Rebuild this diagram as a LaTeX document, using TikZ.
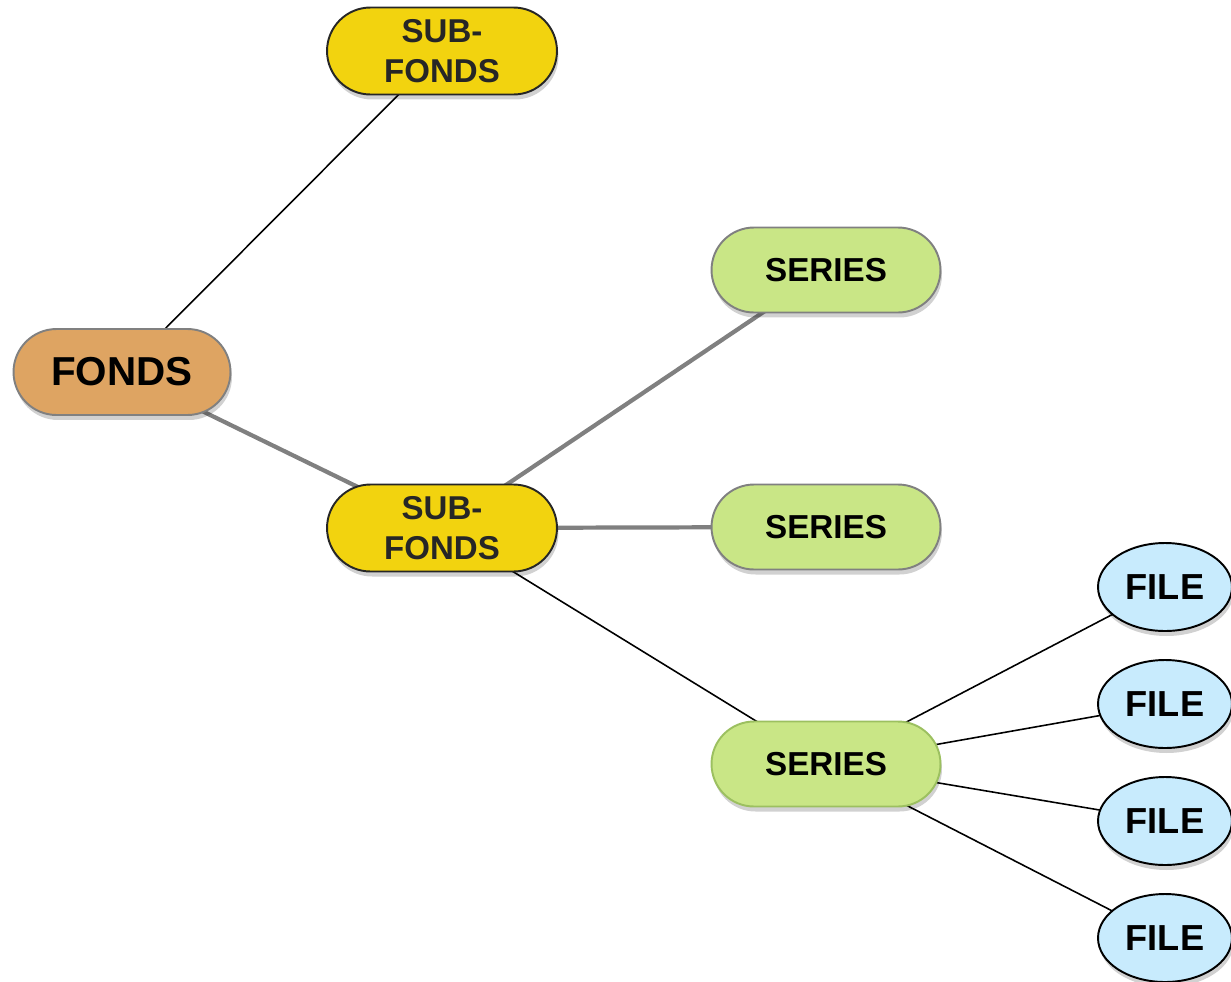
\documentclass[tikz,border=0pt]{standalone}
\usepackage{fontspec}
\setmainfont{Liberation Sans}
\usetikzlibrary{shapes.geometric,shadows,backgrounds}

\definecolor{fondsfill}{HTML}{DEA462}
\definecolor{subfill}{HTML}{F2D30F}
\definecolor{seriesfill}{HTML}{C9E686}
\definecolor{seriesgreen}{HTML}{9CC060}
\definecolor{filefill}{HTML}{C8EBFD}
\definecolor{edgegray}{HTML}{808080}

\tikzset{
  softshadow/.style={drop shadow={shadow xshift=0.03cm, shadow yshift=-0.1cm, opacity=0.18, fill=black}},
  pill/.style={rectangle, draw, line width=1.1pt, softshadow, text centered, inner sep=0pt},
  fondsbox/.style={pill, fill=fondsfill, draw=edgegray, minimum width=4.34cm, minimum height=1.72cm,
    rounded corners=0.86cm, font=\fontsize{23}{26}\selectfont\bfseries},
  subbox/.style={pill, fill=subfill, draw=black!85, minimum width=4.6cm, minimum height=1.74cm,
    rounded corners=0.87cm, align=center, text=black!85, font=\fontsize{18.8}{23}\selectfont\bfseries},
  seriesbox/.style={pill, fill=seriesfill, draw=edgegray, minimum width=4.58cm, minimum height=1.7cm,
    rounded corners=0.85cm, font=\fontsize{18.9}{22}\selectfont\bfseries},
  filebox/.style={ellipse, draw=black, line width=1.1pt, fill=filefill, softshadow, inner sep=0pt,
    minimum width=2.68cm, minimum height=1.76cm, font=\fontsize{20.6}{22}\selectfont\bfseries},
  thinlink/.style={draw=black, line width=0.9pt},
  thicklink/.style={draw=edgegray, line width=2.4pt}
}

\begin{document}
\begin{tikzpicture}[x=0.02cm, y=-0.02cm]
  \useasboundingbox (0,0) rectangle (1231,981);

  % hierarchy levels
  \node[fondsbox] (fonds) at (122,372) {FONDS};
  \node[subbox] (subtop) at (442,51) {SUB-\\FONDS};
  \node[subbox] (submid) at (442,528) {SUB-\\FONDS};
  \node[seriesbox] (serA) at (826,270) {SERIES};
  \node[seriesbox] (serB) at (826,527) {SERIES};
  \node[seriesbox, draw=seriesgreen] (serC) at (826,764) {SERIES};
  \node[filebox] (fileA) at (1165,587) {FILE};
  \node[filebox] (fileB) at (1165,704) {FILE};
  \node[filebox] (fileC) at (1165,821) {FILE};
  \node[filebox] (fileD) at (1165,938) {FILE};

  % connectors, behind the nodes
  \begin{pgfonlayer}{background}
    \draw[thinlink] (fonds.center) -- (subtop.center);
    \draw[thicklink] (fonds.center) -- (submid.center);
    \draw[thicklink] (submid.center) -- (serA.center);
    \draw[thicklink] (submid.center) -- (serB.center);
    \draw[thinlink] (submid.center) -- (serC.center);
    \draw[thinlink] (serC.center) -- (fileA.center);
    \draw[thinlink] (serC.center) -- (fileB.center);
    \draw[thinlink] (serC.center) -- (fileC.center);
    \draw[thinlink] (serC.center) -- (fileD.center);
  \end{pgfonlayer}
\end{tikzpicture}
\end{document}
